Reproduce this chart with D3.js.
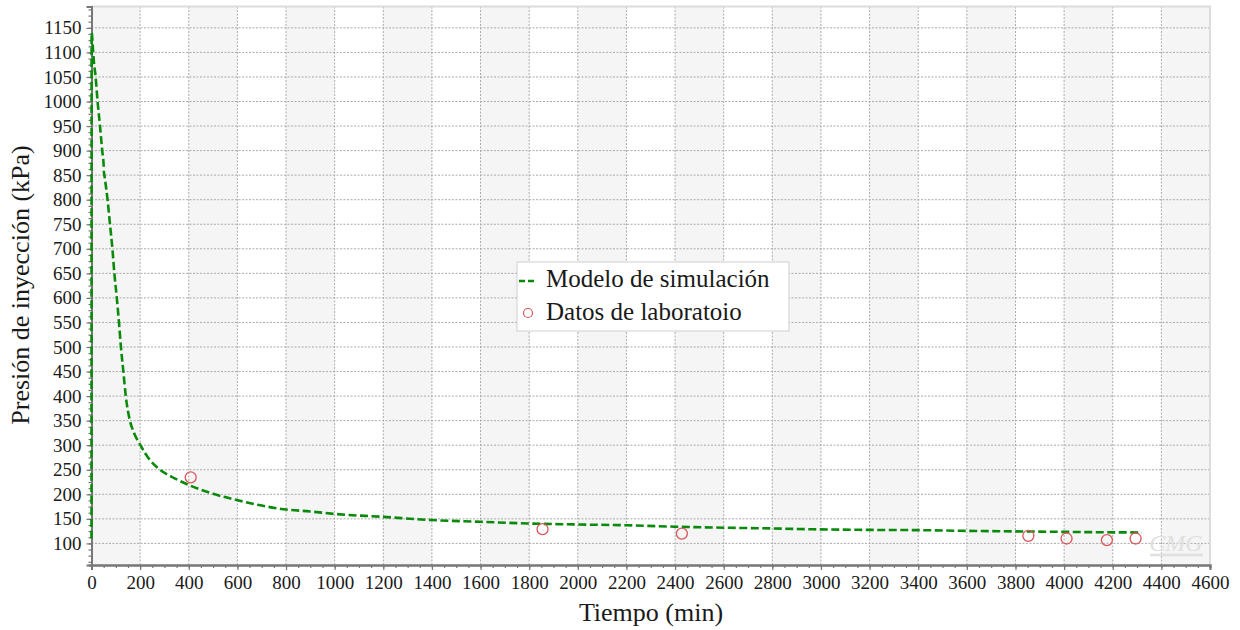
<!DOCTYPE html>
<html>
<head>
<meta charset="utf-8">
<script src="https://d3js.org/d3.v7.min.js"></script>
<style>
  body { margin: 0; background: #fff; }
  svg text { font-family: "Liberation Serif", "Times New Roman", serif; fill: #1a1a1a; }
</style>
</head>
<body>
<div id="chart"></div>
<script>
// simulation curve (min, kPa)
const simTime  = [0, 0.5, 7, 10, 17, 25, 35, 44, 50, 51, 53, 66, 76, 86, 94, 104, 113, 121, 131, 141, 158, 175, 200, 240, 282, 340, 400, 500, 601, 700, 800, 900, 1000, 1200, 1400, 1600, 1800, 2000, 2200, 2400, 2600, 2800, 3000, 3200, 3400, 3600, 3800, 4000, 4200, 4320];
const simValue = [110, 1140, 1100, 1080, 1050, 1000, 950, 900, 870, 857, 850, 800, 750, 700, 650, 600, 550, 500, 450, 400, 350, 325, 301, 270, 250, 233, 219, 201, 188, 177, 169, 165, 160, 154, 147.5, 144, 140.5, 138.5, 137, 134, 132, 130.5, 128.5, 127.5, 127, 125.5, 124.5, 123.5, 122.5, 122.3];

// lab points
const labTime  = [408, 1855, 2428, 3853, 4010, 4176, 4294];
const labValue = [234.5, 129, 120, 115.5, 110, 106.7, 110];

const xTicks = d3.range(0, 4601, 200);
const yTicks = d3.range(100, 1151, 50);

const seriesNames = ["Modelo de simulación", "Datos de laboratoio"];

const W = 1240, H = 630;
const mLeft = 91.5, mRight = 1210, mTop = 6.5, mBottom = 565;
const serif = '"Liberation Serif", "Times New Roman", serif';

const svg = d3.select("#chart").append("svg")
    .attr("width", W)
    .attr("height", H);

const x = d3.scaleLinear().domain([0, 4600]).range([mLeft, mRight]);
const y = d3.scaleLinear().domain([56, 1193.5]).range([mBottom, mTop]);

// alternating bands
svg.selectAll("rect.band")
    .data(xTicks.slice(0, -1))
    .join("rect")
    .attr("class", "band")
    .attr("x", d => x(d))
    .attr("y", mTop)
    .attr("width", d => x(d + 200) - x(d))
    .attr("height", mBottom - mTop)
    .attr("fill", (d, i) => i % 2 === 0 ? "#f5f5f5" : "#ffffff");

// grid
const grid = svg.append("g").attr("stroke", "#aaaaaa").attr("stroke-width", 1).attr("stroke-dasharray", "2,1.5");
grid.selectAll("line.gx")
    .data(xTicks.slice(1, -1))
    .join("line")
    .attr("class", "gx")
    .attr("x1", d => x(d)).attr("x2", d => x(d))
    .attr("y1", mTop).attr("y2", mBottom);
grid.selectAll("line.gy")
    .data(yTicks)
    .join("line")
    .attr("class", "gy")
    .attr("x1", mLeft).attr("x2", mRight)
    .attr("y1", d => y(d)).attr("y2", d => y(d));

// top/right frame
svg.append("path")
    .attr("d", `M${mLeft},${mTop}H${mRight}V${mBottom}`)
    .attr("fill", "none")
    .attr("stroke", "#dcdcdc")
    .attr("stroke-width", 2);

// watermark
const wm = svg.append("g");
wm.append("text")
    .attr("x", 1176).attr("y", 551)
    .attr("text-anchor", "middle")
    .style("font-size", "24px")
    .style("font-style", "italic")
    .style("fill", "#e0e0e0")
    .text("CMG");
wm.append("line")
    .attr("x1", 1150).attr("x2", 1203).attr("y1", 555).attr("y2", 555)
    .attr("stroke", "#e0e0e0").attr("stroke-width", 2.5);

// axes
const xAxis = d3.axisBottom(x).tickValues(xTicks).tickSize(5).tickPadding(6).tickFormat(d3.format("d"));
const xMinor = d3.axisBottom(x).tickValues(d3.range(0, 4601, 50)).tickSize(3).tickFormat("");
const yAxis = d3.axisLeft(y).tickValues(yTicks).tickSize(5).tickPadding(5).tickFormat(d3.format("d"));
const yMinor = d3.axisLeft(y).tickValues(d3.range(62.5, 1190, 12.5)).tickSize(3).tickFormat("");

function styleAxis(g) {
    g.attr("font-family", serif);
    g.select(".domain").attr("stroke", "#777").attr("stroke-width", 2);
    g.selectAll(".tick line").attr("stroke", "#777").attr("stroke-width", 1.2);
    g.selectAll(".tick text")
        .style("font-family", serif)
        .style("font-size", "19px")
        .style("fill", "#1a1a1a");
}

svg.append("g").attr("transform", `translate(0,${mBottom})`).call(xMinor).call(styleAxis);
svg.append("g").attr("transform", `translate(0,${mBottom})`).call(xAxis).call(styleAxis);
svg.append("g").attr("transform", `translate(${mLeft},0)`).call(yMinor).call(styleAxis);
svg.append("g").attr("transform", `translate(${mLeft},0)`).call(yAxis).call(styleAxis);

// axis titles
svg.append("text")
    .attr("x", 651).attr("y", 621)
    .attr("text-anchor", "middle")
    .style("font-size", "26px")
    .text("Tiempo (min)");
svg.append("text")
    .attr("transform", "translate(29,285) rotate(-90)")
    .attr("text-anchor", "middle")
    .style("font-size", "26px")
    .text("Presión de inyección (kPa)");

// simulation line
const simData = simTime.map((t, i) => ({t: t, v: simValue[i]}));
const line = d3.line()
    .x(d => x(d.t))
    .y(d => y(d.v))
    .curve(d3.curveMonotoneX);

const plot = svg.append("g");
plot.append("path")
    .datum(simData)
    .attr("d", line)
    .attr("fill", "none")
    .attr("stroke", "#0a8a0a")
    .attr("stroke-width", 2.6)
    .attr("stroke-dasharray", "8,3.5");

// lab points
const labData = labTime.map((t, i) => ({t: t, v: labValue[i]}));
plot.selectAll("circle.lab")
    .data(labData)
    .join("circle")
    .attr("class", "lab")
    .attr("cx", d => x(d.t))
    .attr("cy", d => y(d.v))
    .attr("r", 5.5)
    .attr("fill", "none")
    .attr("stroke", "#d9575c")
    .attr("stroke-width", 1.3);

// legend
const lg = svg.append("g").attr("transform", "translate(517,262)");
lg.append("rect")
    .attr("width", 272).attr("height", 69)
    .attr("fill", "#fff")
    .attr("stroke", "#cfcfcf")
    .attr("stroke-width", 1);
lg.append("line")
    .attr("x1", 2).attr("x2", 18).attr("y1", 19).attr("y2", 19)
    .attr("stroke", "#0a8a0a").attr("stroke-width", 2.6)
    .attr("stroke-dasharray", "6,3");
lg.append("circle")
    .attr("cx", 11).attr("cy", 51).attr("r", 4.5)
    .attr("fill", "none").attr("stroke", "#d9575c").attr("stroke-width", 1.2);
lg.selectAll("text")
    .data(seriesNames)
    .join("text")
    .attr("x", 29)
    .attr("y", (d, i) => 25 + i * 33)
    .style("font-size", "25px")
    .text(d => d);
</script>
</body>
</html>
